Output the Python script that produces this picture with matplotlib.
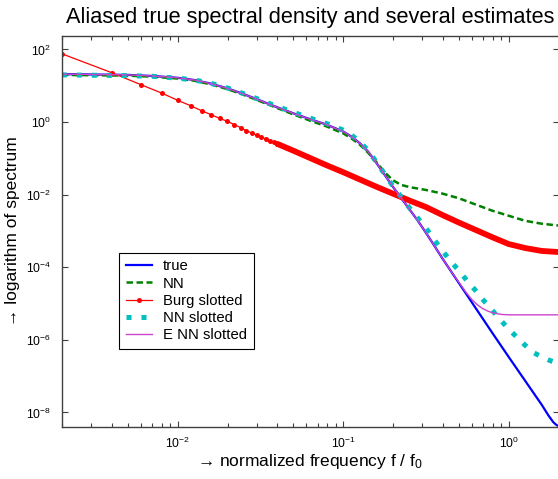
import numpy as np
import matplotlib
matplotlib.use("Agg")
import matplotlib.pyplot as plt

plt.rcParams['font.family'] = ['Liberation Sans', 'DejaVu Sans']
plt.rcParams['mathtext.fontset'] = 'custom'
plt.rcParams['mathtext.rm'] = 'Liberation Sans'
plt.rcParams['mathtext.it'] = 'Liberation Sans:italic'
plt.rcParams['axes.unicode_minus'] = False

# values, as log10(f) and log10(spectrum)
true_lf = [-2.70, -2.50, -2.30, -2.15, -2.00, -1.90, -1.80, -1.70, -1.60, -1.50,
           -1.40, -1.30, -1.20, -1.10, -1.00, -0.95, -0.90, -0.85, -0.80, -0.75,
           -0.70, -0.65, -0.60, -0.55, -0.50, -0.45, -0.40, -0.30, -0.20, -0.10,
           0.00, 0.05, 0.10, 0.15, 0.20, 0.24, 0.27, 0.29, 0.302]
true_ls = [1.32, 1.31, 1.30, 1.27, 1.22, 1.16, 1.06, 0.93, 0.77, 0.59,
           0.41, 0.24, 0.08, -0.07, -0.26, -0.40, -0.58, -0.81, -1.12, -1.45,
           -1.78, -2.09, -2.40, -2.71, -3.05, -3.40, -3.76, -4.44, -5.12, -5.80,
           -6.47, -6.80, -7.13, -7.46, -7.79, -8.08, -8.27, -8.35, -8.37]

nn_lf = [-2.70, -2.50, -2.30, -2.15, -2.00, -1.90, -1.80, -1.70, -1.60, -1.50,
         -1.40, -1.30, -1.20, -1.10, -1.00, -0.95, -0.90, -0.85, -0.80, -0.75,
         -0.70, -0.65, -0.60, -0.50, -0.40, -0.30, -0.20, -0.10, 0.00, 0.10,
         0.20, 0.302]
nn_ls = [1.30, 1.29, 1.28, 1.25, 1.20, 1.14, 1.04, 0.91, 0.75, 0.57,
         0.39, 0.21, 0.04, -0.12, -0.31, -0.45, -0.62, -0.84, -1.10, -1.38,
         -1.60, -1.73, -1.79, -1.87, -1.97, -2.10, -2.27, -2.44, -2.58, -2.72,
         -2.80, -2.85]

# Burg slotted, first 20 values sit on f = 0.002 k (drawn with markers)
burg_lf = [-2.699, -2.398, -2.222, -2.097, -2.000, -1.921, -1.854, -1.796, -1.745, -1.699,
           -1.658, -1.620, -1.585, -1.553, -1.523, -1.495, -1.469, -1.444, -1.420, -1.398,
           -1.30, -1.20, -1.10, -1.00, -0.90, -0.80, -0.70, -0.60, -0.50, -0.40,
           -0.30, -0.20, -0.10, 0.00, 0.10, 0.20, 0.302]
burg_ls = [1.88, 1.36, 1.03, 0.80, 0.60, 0.45, 0.31, 0.20, 0.10, 0.02,
           -0.07, -0.15, -0.24, -0.30, -0.36, -0.41, -0.46, -0.51, -0.56, -0.60,
           -0.79, -0.99, -1.19, -1.38, -1.58, -1.78, -1.97, -2.16, -2.34, -2.56,
           -2.77, -2.97, -3.17, -3.36, -3.47, -3.55, -3.58]
n_burg_dots = 20

nns_lf = [-2.70, -2.50, -2.30, -2.15, -2.00, -1.90, -1.80, -1.70, -1.60, -1.50,
          -1.40, -1.30, -1.20, -1.10, -1.00, -0.95, -0.90, -0.85, -0.80, -0.75,
          -0.70, -0.65, -0.60, -0.55, -0.50, -0.45, -0.40, -0.35, -0.30, -0.25,
          -0.20, -0.15, -0.10, -0.05, 0.00, 0.05, 0.10, 0.15, 0.20, 0.25, 0.302]
nns_ls = [1.30, 1.29, 1.28, 1.26, 1.21, 1.16, 1.07, 0.94, 0.78, 0.61,
          0.43, 0.27, 0.11, -0.04, -0.22, -0.36, -0.54, -0.78, -1.10, -1.43,
          -1.76, -2.06, -2.36, -2.64, -2.92, -3.24, -3.55, -3.83, -4.10, -4.38,
          -4.64, -4.92, -5.18, -5.45, -5.70, -5.93, -6.15, -6.35, -6.47, -6.57, -6.65]

enn_lf = [-2.70, -2.50, -2.30, -2.15, -2.00, -1.90, -1.80, -1.70, -1.60, -1.50,
          -1.40, -1.30, -1.20, -1.10, -1.00, -0.95, -0.90, -0.85, -0.80, -0.75,
          -0.70, -0.65, -0.60, -0.55, -0.50, -0.45, -0.40, -0.35, -0.30, -0.26,
          -0.22, -0.19, -0.16, -0.13, -0.10, -0.07, -0.04, 0.00, 0.10, 0.20, 0.302]
enn_ls = [1.32, 1.31, 1.30, 1.27, 1.22, 1.16, 1.06, 0.93, 0.77, 0.59,
          0.41, 0.24, 0.08, -0.07, -0.26, -0.40, -0.58, -0.81, -1.12, -1.45,
          -1.78, -2.09, -2.40, -2.71, -3.05, -3.40, -3.76, -4.10, -4.42, -4.68,
          -4.90, -5.03, -5.13, -5.20, -5.25, -5.28, -5.30, -5.31, -5.31, -5.31, -5.31]

labels = ['true', 'NN', 'Burg slotted', 'NN slotted', 'E NN slotted']


def p10(v):
    return 10 ** np.asarray(v)


fig = plt.figure(figsize=(5.58, 4.79), dpi=100)
ax = fig.add_axes([62 / 558, 52 / 479, 496.5 / 558, 391.3 / 479])

ax.plot(p10(true_lf), p10(true_ls), color='#0000ff', lw=1.6, label=labels[0])
ax.plot(p10(nn_lf), p10(nn_ls), color='#008000', lw=1.8, ls=(0, (2.6, 1.4)), label=labels[1])
ax.plot(p10(burg_lf), p10(burg_ls), color='#ff0000', lw=0.9, marker='o', ms=3.6, mew=0,
        markevery=list(range(n_burg_dots)), label=labels[2])
ax.plot(p10(burg_lf[n_burg_dots - 1:]), p10(burg_ls[n_burg_dots - 1:]), color='#ff0000',
        lw=4.2, solid_capstyle='round')
ax.plot(p10(nns_lf), p10(nns_ls), color='#00bfbf', lw=3.6, ls=(0, (1, 2)), label=labels[3])
ax.plot(p10(enn_lf), p10(enn_ls), color='#cc44cc', lw=1.0, label=labels[4])

ax.set_xscale('log')
ax.set_yscale('log')
ax.set_xlim(0.002, 2)
ax.set_ylim(10 ** -8.40, 10 ** 2.38)
ax.set_yticks([1e2, 1e0, 1e-2, 1e-4, 1e-6, 1e-8])
ax.yaxis.set_minor_locator(matplotlib.ticker.NullLocator())

for s in ax.spines.values():
    s.set_color('#404040')
    s.set_linewidth(1.0)
ax.tick_params(which='both', direction='in', top=True, right=True, color='#404040',
               labelsize=8.7)
ax.tick_params(axis='y', pad=8)
ax.tick_params(axis='x', pad=6)
ax.tick_params(which='major', length=4.3, width=0.8)
ax.tick_params(which='minor', length=3, width=0.8)

ax.set_title('Aliased true spectral density and several estimates', fontsize=15.7, pad=9)
ax.set_xlabel('\u2192 normalized frequency f / f$_0$', fontsize=12.5, labelpad=1)
ax.set_ylabel('\u2192 logarithm of spectrum', fontsize=12.5, labelpad=4)

leg = ax.legend(loc='lower left', bbox_to_anchor=(0.1148, 0.1993), borderaxespad=0,
                fontsize=10.7, fancybox=False, edgecolor='black', framealpha=1,
                handlelength=1.8, handletextpad=0.7, labelspacing=0.22, borderpad=0.45)
leg.get_frame().set_linewidth(0.8)

fig.savefig('out.png', dpi=100)
